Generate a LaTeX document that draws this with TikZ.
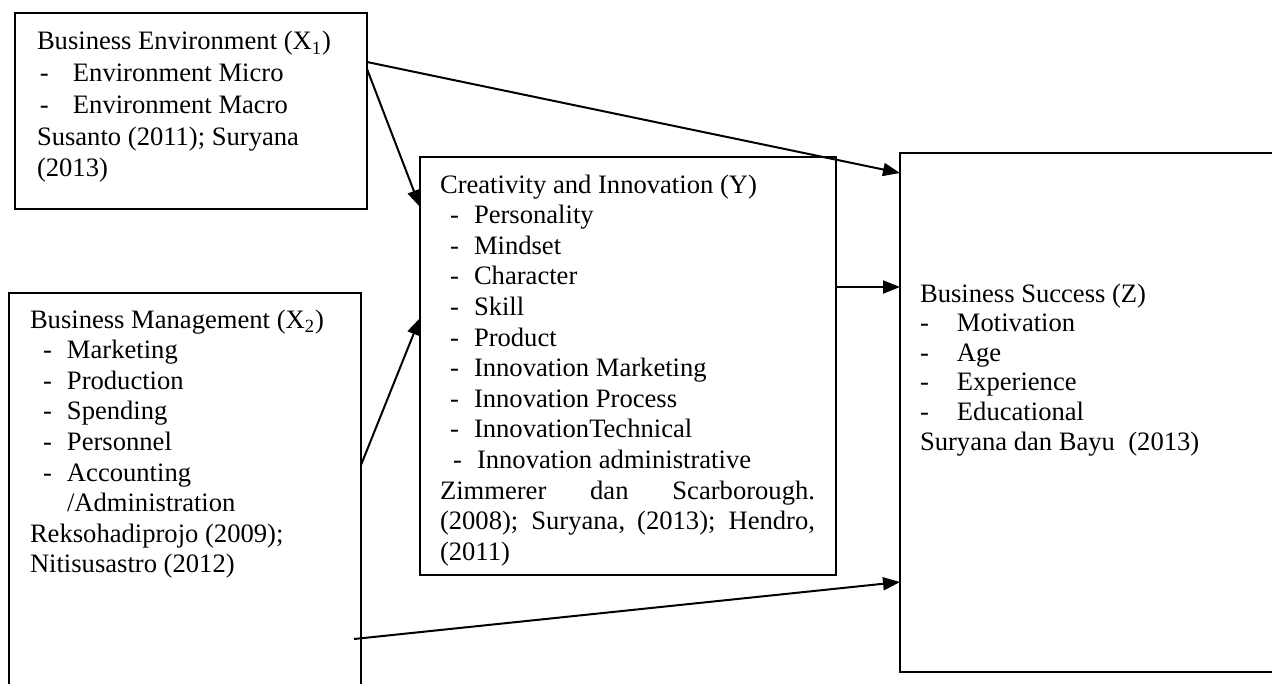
\documentclass[tikz,border=0pt]{standalone}
\usepackage{fontspec}
\setmainfont{Liberation Serif}
\usetikzlibrary{arrows.meta}
\newcommand\dashitem[3]{\hspace*{#1}\makebox[\dimexpr#2-#1\relax][l]{-}#3}
\begin{document}
\begin{tikzpicture}[x=0.5pt,y=-0.5pt,
  box/.style={draw,line width=1.1pt,inner sep=0pt,outer sep=0pt,anchor=north west},
  txt/.style={anchor=base west,inner sep=0pt,outer sep=0pt},
  conn/.style={line width=1pt,-{Triangle[length=8.5pt,width=6.5pt]}}]
\clip (0,0) rectangle (1272,684);
\fill[white] (0,0) rectangle (1272,684);
% boxes
\node[box,minimum width=176pt,minimum height=98pt] (X1) at (15,13) {};
\node[box,minimum width=176pt,minimum height=230pt] (X2) at (9,293) {};
\node[box,minimum width=208pt,minimum height=209pt] (Y) at (420,157) {};
\node[box,minimum width=200pt,minimum height=259.5pt] (Z) at (900,153) {};
% texts
\node[txt] (tX1) at (37,50) {\parbox[t]{172pt}{\fontsize{13.3pt}{15.85pt}\selectfont
Business Environment (X\textsubscript{1})\\
\dashitem{1.5pt}{18pt}{Environment Micro}\\
\dashitem{1.5pt}{18pt}{Environment Macro}\\
Susanto (2011); Suryana\\
(2013)}};
\node[txt] (tX2) at (30,328) {\parbox[t]{165pt}{\fontsize{13.3pt}{15.3pt}\selectfont
Business Management (X\textsubscript{2})\\
\dashitem{6.5pt}{18.5pt}{Marketing}\\
\dashitem{6.5pt}{18.5pt}{Production}\\
\dashitem{6.5pt}{18.5pt}{Spending}\\
\dashitem{6.5pt}{18.5pt}{Personnel}\\
\dashitem{6.5pt}{18.5pt}{Accounting}\\
\hspace*{18.5pt}/Administration\\
Reksohadiprojo (2009);\\
Nitisusastro (2012)}};
\node[txt] (tY) at (440,193) {\parbox[t]{190pt}{\fontsize{13.3pt}{15.3pt}\selectfont
Creativity and Innovation (Y)\\
\dashitem{5pt}{17pt}{Personality}\\
\dashitem{5pt}{17pt}{Mindset}\\
\dashitem{5pt}{17pt}{Character}\\
\dashitem{5pt}{17pt}{Skill}\\
\dashitem{5pt}{17pt}{Product}\\
\dashitem{5pt}{17pt}{Innovation Marketing}\\
\dashitem{5pt}{17pt}{Innovation Process}\\
\dashitem{5pt}{17pt}{InnovationTechnical}\\
\dashitem{6.5pt}{18.5pt}{Innovation administrative}\\
\makebox[187.5pt][s]{Zimmerer dan Scarborough.}\\
\makebox[187.5pt][s]{(2008); Suryana, (2013); Hendro,}\\
(2011)}};
\node[txt] (tZ) at (920,302) {\parbox[t]{170pt}{\fontsize{13.3pt}{14.8pt}\selectfont
Business Success (Z)\\
\dashitem{0pt}{18.5pt}{Motivation}\\
\dashitem{0pt}{18.5pt}{Age}\\
\dashitem{0pt}{18.5pt}{Experience}\\
\dashitem{0pt}{18.5pt}{Educational}\\
Suryana dan Bayu\ \ (2013)}};
% connectors
\draw[conn] ([yshift=-24.5pt]X1.north east) -- ([yshift=-10pt]Z.north west);
\draw[conn] ([yshift=-28pt]X1.north east) -- ([yshift=-25pt]Y.north west);
\draw[conn] ([yshift=-86pt]X2.north east) -- ([yshift=-80.5pt]Y.north west);
\draw[conn] ([yshift=-65pt]Y.north east) -- ([yshift=-67pt]Z.north west);
\draw[conn] ([xshift=-3.5pt,yshift=-173pt]X2.north east) -- ([yshift=-214.5pt]Z.north west);
\end{tikzpicture}
\end{document}
